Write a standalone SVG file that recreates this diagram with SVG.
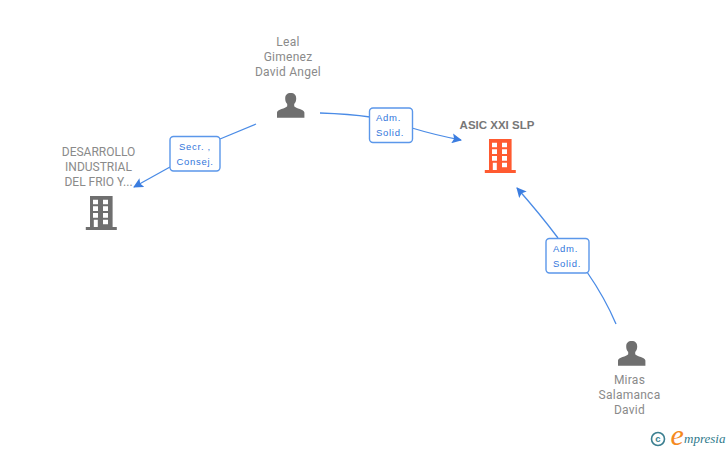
<svg xmlns="http://www.w3.org/2000/svg" xmlns:xlink="http://www.w3.org/1999/xlink" width="728" height="450" viewBox="0 0 728 450">
<style>
text{font-family:"Liberation Sans",Arial,sans-serif}
.n{font-family:Roboto,"Liberation Sans",sans-serif;font-size:12px;fill:#8a8a8a;text-anchor:middle;letter-spacing:.25px}
.u{letter-spacing:0}
.b{font-size:11.500px;font-weight:bold;fill:#777;text-anchor:middle}
.l{font-size:9.500px;fill:#3276dc;text-anchor:middle;letter-spacing:.7px}
.c{fill:none;stroke:#4a8be6;stroke-width:1.300}
.box{fill:#fff;stroke:#5b97ea;stroke-width:1.400}
</style>
<defs>
<marker id="a" viewBox="0 0 10 10" refX="9" refY="5" markerWidth="10" markerHeight="10" markerUnits="userSpaceOnUse" orient="auto"><path d="M0 0L10 5L0 10L2 5Z" fill="#3b7de0"/></marker>
<path id="p" d="M-13.700 20.700V15.500C-13.700 12.500-5 11.500-3.500 9.300V7C-5 5.500-5.500 3.500-5.500 1.500C-5.500-2-3.500-3.900 0-3.900C3.500-3.900 5.500-2 5.500 1.500C5.500 3.500 5 5.500 3.500 7V9.300C5 11.500 13.700 12.500 13.700 15.500V20.700Z"/>
<path id="t" fill-rule="evenodd" d="M-11.300 0H11.300V31H15.500V34H-15.500V31H-11.300ZM-8.300 3.700V8.300H-3.300V3.700ZM1.700 3.700V8.300H6.700V3.700ZM-8.300 10.300V15H-3.300V10.300ZM1.700 10.300V15H6.700V10.300ZM-8.300 17V21.700H-3.300V17ZM1.700 17V21.700H6.700V17ZM-7.500 23.700V31H-3.500V23.700ZM1.700 23.700V28.300H6.700V23.700Z"/>
</defs>
<g id="connectors">
<path class="c" d="M320 113Q350 114 370 117"/>
<path class="c" d="M412 128Q435 135 461 140" marker-end="url(#a)"/>
<path class="c" d="M256 124L220 139"/>
<path class="c" d="M170 167L134 187" marker-end="url(#a)"/>
<path class="c" d="M616 324Q605 298 587 272"/>
<path class="c" d="M558 238Q540 214 517 188" marker-end="url(#a)"/>
</g>
<g id="node-leal">
<text class="n" x="288" y="46">Leal</text><text class="n" x="288" y="61">Gimenez</text><text class="n" x="288" y="76">David Angel</text>
<use xlink:href="#p" href="#p" x="290.700" y="97" fill="#6f6f6f"/>
</g>
<g id="node-asic">
<text class="b" x="497" y="129">ASIC XXI SLP</text>
<use xlink:href="#t" href="#t" x="500.300" y="139" fill="#ff5a30"/>
</g>
<g id="node-desarrollo">
<text class="n u" x="98.500" y="156">DESARROLLO</text><text class="n u" x="98.500" y="171">INDUSTRIAL</text><text class="n u" x="98.500" y="186">DEL FRIO Y...</text>
<use xlink:href="#t" href="#t" x="101.300" y="196" fill="#6f6f6f"/>
</g>
<g id="node-miras">
<use xlink:href="#p" href="#p" x="631.700" y="345" fill="#6f6f6f"/>
<text class="n" x="629.500" y="384">Miras</text><text class="n" x="629.500" y="399">Salamanca</text><text class="n" x="629.500" y="414">David</text>
</g>
<g id="label-adm-top">
<rect class="box" x="369.500" y="108" width="43" height="34.500" rx="3.500"/>
<text class="l" x="388.500" y="121">Adm.</text><text class="l" x="390" y="136">Solid.</text>
</g>
<g id="label-secr">
<rect class="box" x="170" y="136.500" width="50" height="34.500" rx="3.500"/>
<text class="l" x="195" y="150">Secr. ,</text><text class="l" x="195" y="165">Consej.</text>
</g>
<g id="label-adm-bottom">
<rect class="box" x="546" y="238.500" width="43" height="34.500" rx="3.500"/>
<text class="l" x="565.500" y="252">Adm.</text><text class="l" x="567" y="267">Solid.</text>
</g>
<g id="logo">
<circle cx="658" cy="439" r="6.500" fill="none" stroke="#3b7f90" stroke-width="1.600"/>
<text x="658" y="442" font-size="9.500" font-weight="bold" fill="#3b7f90" text-anchor="middle">c</text>
<text x="670.500" y="445" style="font-family:'Liberation Serif',serif" font-style="italic" font-size="30" fill="#f58a1f">e</text>
<text x="684" y="443" style="font-family:'Liberation Serif',serif" font-style="italic" font-size="13" fill="#2f7a8c">mpresia</text>
</g>
</svg>
